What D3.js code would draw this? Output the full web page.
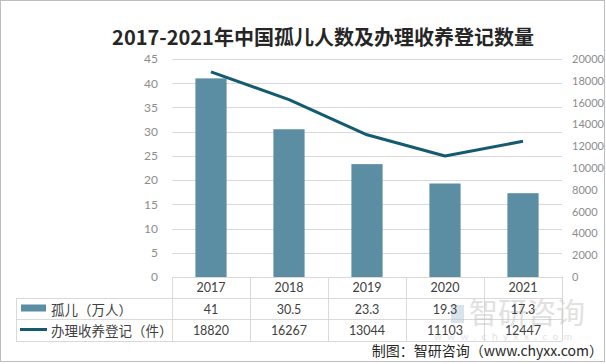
<!DOCTYPE html>
<html><head><meta charset="utf-8">
<script src="https://cdn.jsdelivr.net/npm/d3@7"></script>
<style>body{margin:0;background:#fff}svg{display:block}</style>
</head><body>
<svg id="c" width="606" height="364"></svg>
<script>
const years = ["2017","2018","2019","2020","2021"];
const orphans = [41, 30.5, 23.3, 19.3, 17.3];
const adoptions = [18820, 16267, 13044, 11103, 12447];
const leftTicks = [0,5,10,15,20,25,30,35,40,45];
const rightTicks = [0,2000,4000,6000,8000,10000,12000,14000,16000,18000,20000];
const seriesNames = ["孤儿（万人）", "办理收养登记（件）"];
const title = "2017-2021年中国孤儿人数及办理收养登记数量";
const source = "制图：智研咨询（www.chyxx.com）";

(function(){
const svg = d3.select("#c");
const W = 606, H = 364;
const pL = 172, pR = 562, pT = 59, pB = 277;
const numFont = "Lato, 'Liberation Sans', sans-serif";
const cjkFont = "'Noto Sans CJK SC', sans-serif";
const barColor = "#5b8ea3", lineColor = "#145b70", gridColor = "#d9d9d9", tableLine = "#d9d9d9";

svg.append("rect").attr("x",0.5).attr("y",0.5).attr("width",W-2).attr("height",H-3)
  .attr("fill","#fff").attr("stroke","#bdbdbd");

svg.append("text").attr("x",323).attr("y",45).attr("text-anchor","middle")
  .attr("font-family",cjkFont).attr("font-weight","bold").attr("font-size",20)
  .attr("fill","#262626").text(title);

const x = d3.scaleBand().domain(years).range([pL,pR]).paddingInner(0.6).paddingOuter(0.3);
const xb = d3.scaleBand().domain(years).range([pL,pR]);
const yL = d3.scaleLinear().domain([0,45]).range([pB,pT]);
const yR = d3.scaleLinear().domain([0,20000]).range([pB,pT]);

svg.append("g").selectAll("line").data(leftTicks.slice(1)).join("line")
  .attr("x1",pL).attr("x2",pR).attr("y1",d=>Math.round(yL(d))+0.5).attr("y2",d=>Math.round(yL(d))+0.5)
  .attr("stroke",gridColor);

const axL = svg.append("g").attr("transform",`translate(${pL},0)`)
  .call(d3.axisLeft(yL).tickValues(leftTicks).tickSize(0).tickPadding(14));
axL.select(".domain").remove();
axL.selectAll("text").attr("font-family",numFont).attr("font-size",12).attr("fill","#8c8c8c");
const axR = svg.append("g").attr("transform",`translate(${pR},0)`)
  .call(d3.axisRight(yR).tickValues(rightTicks).tickFormat(d3.format("d")).tickSize(0).tickPadding(10));
axR.select(".domain").remove();
axR.selectAll("text").attr("font-family",numFont).attr("font-size",11).attr("fill","#8c8c8c");

svg.append("g").selectAll("rect").data(orphans).join("rect")
  .attr("x",(d,i)=>x(years[i])).attr("width",x.bandwidth())
  .attr("y",d=>yL(d)).attr("height",d=>pB-yL(d)).attr("fill",barColor);

const line = d3.line().x((d,i)=>xb(years[i])+xb.bandwidth()/2).y(d=>yR(d));
svg.append("path").datum(adoptions).attr("d",line).attr("fill","none")
  .attr("stroke",lineColor).attr("stroke-width",3).attr("stroke-linejoin","round");

const rowY = [277, 298.5, 319.5, 341];
const tg = svg.append("g").attr("stroke",tableLine).attr("shape-rendering","crispEdges");
tg.append("line").attr("x1",pL).attr("x2",pR).attr("y1",pB).attr("y2",pB);
[1,2,3].forEach(i=>tg.append("line").attr("x1",16).attr("x2",pR).attr("y1",rowY[i]).attr("y2",rowY[i]));
tg.append("line").attr("x1",16).attr("x2",16).attr("y1",rowY[1]).attr("y2",rowY[3]);
years.forEach(y=>tg.append("line").attr("x1",xb(y)).attr("x2",xb(y)).attr("y1",pB).attr("y2",rowY[3]));
tg.append("line").attr("x1",pR).attr("x2",pR).attr("y1",pB).attr("y2",rowY[3]);

// watermark (drawn beneath the table text)
const wm = svg.append("g").attr("opacity",0.5);
wm.append("rect").attr("x",451).attr("y",305).attr("width",13).attr("height",18).attr("fill","#b9c9d6");
wm.append("text").attr("x",469).attr("y",324).attr("font-family",cjkFont).attr("font-size",29)
  .attr("fill","#c4c4c4").text("智研咨询");
wm.append("text").attr("x",434).attr("y",340).attr("font-family",numFont).attr("font-size",10)
  .attr("letter-spacing",5.5).attr("fill","#c4c4c4").text("www.chyxx.com");

const cell = (txt,cx,cy)=>svg.append("text").attr("x",cx).attr("y",cy).attr("text-anchor","middle")
  .attr("dominant-baseline","central").attr("font-family",numFont).attr("font-size",12.5)
  .attr("fill","#404040").text(txt);
years.forEach((y,i)=>{
  const cx = xb(y)+xb.bandwidth()/2;
  cell(y,cx,(rowY[0]+rowY[1])/2);
  cell(orphans[i],cx,(rowY[1]+rowY[2])/2);
  cell(adoptions[i],cx,(rowY[2]+rowY[3])/2);
});

svg.append("rect").attr("x",21).attr("y",304.5).attr("width",25).attr("height",7).attr("fill",barColor);
svg.append("line").attr("x1",20).attr("x2",47).attr("y1",329.5).attr("y2",329.5)
  .attr("stroke",lineColor).attr("stroke-width",3);
seriesNames.forEach((n,i)=>svg.append("text").attr("x",51).attr("y",(rowY[i+1]+rowY[i+2])/2)
  .attr("dominant-baseline","central").attr("font-family",cjkFont).attr("font-size",13.5)
  .attr("fill","#404040").text(n));

svg.append("text").attr("x",603).attr("y",356).attr("text-anchor","end")
  .attr("font-family",cjkFont).attr("font-size",14).attr("fill","#262626").text(source);
})();
</script>
</body></html>
